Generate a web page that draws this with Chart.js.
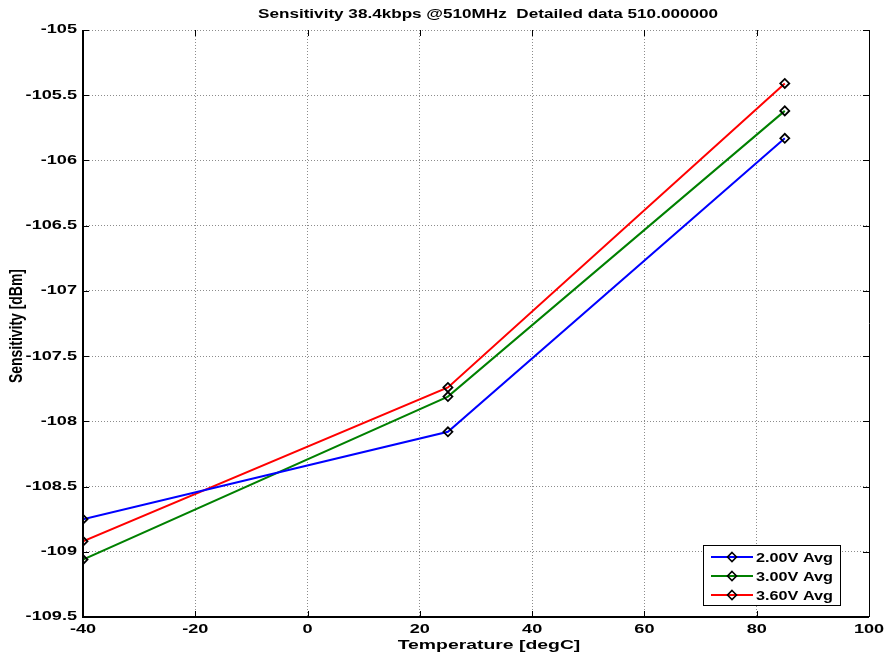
<!DOCTYPE html>
<html>
<head>
<meta charset="utf-8">
<script src="https://cdn.jsdelivr.net/npm/chart.js@4"></script>
<style>
  html, body { margin: 0; padding: 0; background: #fff; }
  #wrap { width: 885px; height: 657px; }
</style>
</head>
<body>
<div id="wrap"><canvas id="sensChart" width="885" height="657"></canvas></div>
<script>
/* =====================================
   DATA
===================================== */

const temperatures = [-40, 25, 85];

const avg200 = [-108.75, -108.08, -105.83];
const avg300 = [-109.06, -107.81, -105.62];
const avg360 = [-108.92, -107.74, -105.41];

const seriesNames = ["2.00V Avg", "3.00V Avg", "3.60V Avg"];
const seriesColors = ["#0000ff", "#008000", "#ff0000"];

const xTicks = [-40, -20, 0, 20, 40, 60, 80, 100];
const yTicks = [-105, -105.5, -106, -106.5, -107, -107.5, -108, -108.5, -109, -109.5];

const chartTitle = "Sensitivity 38.4kbps @510MHz  Detailed data 510.000000";
const xTitle = "Temperature [degC]";
const yTitle = "Sensitivity [dBm]";

const FONT = "Liberation Sans, Arial, sans-serif";

function toPoints(values){
    return temperatures.map((t, i) => ({ x: t, y: values[i] }));
}

function makeSet(name, values, color){
    return {
        label: name,
        data: toPoints(values),
        borderColor: color,
        borderWidth: 2,
        pointStyle: "rectRot",
        pointRadius: 4.5,
        pointBorderWidth: 1.8,
        pointBorderColor: "#000",
        pointBackgroundColor: "rgba(255,255,255,0)",
        tension: 0
    };
}

/* text in the original is stretched sideways, so draw it scaled */
function wideText(c, text, x, y, sx, align){
    c.save();
    c.translate(x, y);
    c.scale(sx, 1);
    c.textAlign = align;
    c.fillText(text, 0, 0);
    c.restore();
}

/* =====================================
   PLUGINS: texts, ticks, frame, legend
===================================== */

const matlabDecor = {
    id: "matlabDecor",
    afterDraw(chart){
        const c = chart.ctx;
        const a = chart.chartArea;
        const xs = chart.scales.x;
        const ys = chart.scales.y;

        c.save();
        c.fillStyle = "#000";
        c.textBaseline = "middle";

        // title
        c.font = "bold 12.5px " + FONT;
        const tw = c.measureText(chartTitle).width;
        wideText(c, chartTitle, 488, 15, 460 / tw, "center");

        // tick labels
        xTicks.forEach(v => {
            wideText(c, String(v), xs.getPixelForValue(v), 630, 1.45, "center");
        });
        yTicks.forEach(v => {
            wideText(c, String(v), 77, ys.getPixelForValue(v), 1.45, "right");
        });

        // axis titles
        wideText(c, xTitle, 489, 646, 1.55, "center");

        const yw = c.measureText(yTitle).width;
        c.save();
        c.translate(17, 326);
        c.rotate(-Math.PI / 2);
        c.scale(114 / yw, 1.5);
        c.textAlign = "center";
        c.fillText(yTitle, 0, 0);
        c.restore();

        // inward ticks
        c.strokeStyle = "#000";
        c.lineWidth = 1;
        xTicks.forEach(v => {
            const px = Math.round(xs.getPixelForValue(v)) + 0.5;
            c.beginPath();
            c.moveTo(px, a.bottom); c.lineTo(px, a.bottom - 6);
            c.moveTo(px, a.top); c.lineTo(px, a.top + 6);
            c.stroke();
        });
        yTicks.forEach(v => {
            const py = Math.round(ys.getPixelForValue(v)) + 0.5;
            c.beginPath();
            c.moveTo(a.left, py); c.lineTo(a.left + 6, py);
            c.moveTo(a.right, py); c.lineTo(a.right - 6, py);
            c.stroke();
        });

        // frame
        c.lineWidth = 1;
        c.beginPath();
        c.moveTo(a.right + 0.5, a.top);
        c.lineTo(a.right + 0.5, a.bottom);
        c.stroke();
        c.lineWidth = 2;
        c.beginPath();
        c.moveTo(a.left, a.top);
        c.lineTo(a.left, a.bottom);
        c.lineTo(a.right, a.bottom);
        c.stroke();

        // legend
        const bx = 703, by = 545, bw = 137, bh = 60;
        c.fillStyle = "#fff";
        c.fillRect(bx, by, bw, bh);
        c.lineWidth = 1;
        c.strokeStyle = "#000";
        c.strokeRect(bx + 0.5, by + 0.5, bw, bh);

        c.font = "bold 13.5px " + FONT;
        const lw = c.measureText(seriesNames[0]).width;
        seriesNames.forEach((name, i) => {
            const ly = by + 12 + i * 19;
            c.strokeStyle = seriesColors[i];
            c.lineWidth = 2;
            c.beginPath();
            c.moveTo(bx + 8, ly);
            c.lineTo(bx + 50, ly);
            c.stroke();
            c.strokeStyle = "#000";
            c.lineWidth = 1.6;
            c.beginPath();
            c.moveTo(bx + 29, ly - 4.5);
            c.lineTo(bx + 33.5, ly);
            c.lineTo(bx + 29, ly + 4.5);
            c.lineTo(bx + 24.5, ly);
            c.closePath();
            c.stroke();
            c.fillStyle = "#000";
            wideText(c, name, bx + 53, ly + 1, 77 / lw, "left");
        });
        c.restore();
    }
};

/* =====================================
   CHART
===================================== */

const ctx = document.getElementById("sensChart").getContext("2d");

const sensChart = new Chart(ctx, {
    type: "line",
    data: {
        datasets: [
            makeSet(seriesNames[0], avg200, seriesColors[0]),
            makeSet(seriesNames[1], avg300, seriesColors[1]),
            makeSet(seriesNames[2], avg360, seriesColors[2])
        ]
    },
    options: {
        responsive: false,
        animation: false,
        layout: { padding: { top: 30, right: 16, left: 0, bottom: 0 } },
        plugins: {
            legend: { display: false },
            title: { display: false },
            tooltip: { enabled: false }
        },
        scales: {
            x: {
                type: "linear",
                min: xTicks[0],
                max: xTicks[xTicks.length - 1],
                ticks: { stepSize: 20, display: false },
                grid: { color: "#8c8c8c", lineWidth: 1, drawTicks: false },
                border: { display: false, dash: [1, 2] },
                afterFit(scale){ scale.height = 40; }
            },
            y: {
                min: yTicks[yTicks.length - 1],
                max: yTicks[0],
                ticks: { stepSize: 0.5, display: false },
                grid: { color: "#8c8c8c", lineWidth: 1, drawTicks: false },
                border: { display: false, dash: [1, 2] },
                afterFit(scale){ scale.width = 83; }
            }
        }
    },
    plugins: [matlabDecor]
});
</script>
</body>
</html>
